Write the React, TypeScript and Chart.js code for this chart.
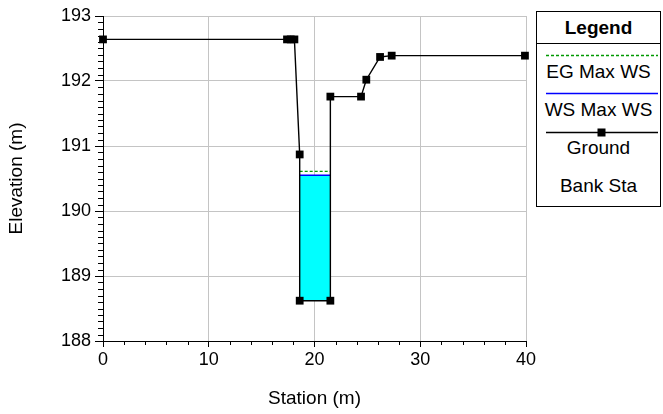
import React, { useEffect, useRef } from 'react';
import { Chart, registerables } from 'chart.js';

Chart.register(...registerables);

// ---- data ----
const groundStation = [0, 17.4, 17.75, 18.1, 18.6, 18.6, 21.5, 21.5, 24.4, 24.9, 26.2, 27.3, 39.9];
const groundElevation = [192.64, 192.64, 192.64, 192.64, 190.87, 188.62, 188.62, 191.76, 191.76, 192.02, 192.37, 192.39, 192.39];
const wsMaxWS = 190.55;
const egMaxWS = 190.61;
const xTickValues = [0, 10, 20, 30, 40];
const yTickValues = [188, 189, 190, 191, 192, 193];
const xMinorStep = 2;
const yMinorStep = 0.1;
const legendTitle = 'Legend';
const legendLabels = ['EG Max WS', 'WS Max WS', 'Ground', 'Bank Sta'];

const FONT = 'Arial, "Liberation Sans", sans-serif';

// wetted area polygon (ground below the water surface)
function wettedPolygon(xs: number[], ys: number[], ws: number) {
  const pts: { x: number; y: number }[] = [];
  for (let i = 0; i < xs.length; i++) {
    if (ys[i] < ws) pts.push({ x: xs[i], y: ys[i] });
    if (i < xs.length - 1) {
      const y0 = ys[i], y1 = ys[i + 1];
      if ((y0 - ws) * (y1 - ws) < 0) {
        const t = (ws - y0) / (y1 - y0);
        pts.push({ x: xs[i] + t * (xs[i + 1] - xs[i]), y: ws });
      }
    }
  }
  if (pts.length) pts.push({ ...pts[0] });
  return pts;
}

const minorTicks = {
  id: 'minorTicks',
  afterDraw(chart: any) {
    const { ctx, chartArea, scales } = chart;
    const x = scales.x, y = scales.y;
    ctx.save();
    ctx.strokeStyle = '#000';
    ctx.lineWidth = 1;
    ctx.beginPath();
    for (let v = x.min; v <= x.max + 1e-9; v += xMinorStep) {
      if (xTickValues.some((t) => Math.abs(t - v) < 1e-6)) continue;
      const px = Math.round(x.getPixelForValue(v)) + 0.5;
      ctx.moveTo(px, chartArea.bottom);
      ctx.lineTo(px, chartArea.bottom + 4);
    }
    const n = Math.round((y.max - y.min) / yMinorStep);
    for (let k = 0; k <= n; k++) {
      const v = y.min + k * yMinorStep;
      if (yTickValues.some((t) => Math.abs(t - v) < 1e-6)) continue;
      const py = Math.round(y.getPixelForValue(v)) + 0.5;
      ctx.moveTo(chartArea.left - 5, py);
      ctx.lineTo(chartArea.left, py);
    }
    ctx.stroke();
    ctx.restore();
  },
};

export default function App() {
  const canvasRef = useRef<HTMLCanvasElement | null>(null);

  useEffect(() => {
    const prevMargin = document.body.style.margin;
    document.body.style.margin = '0';
    const canvas = canvasRef.current;
    if (!canvas) return;

    const ground = groundStation.map((x, i) => ({ x, y: groundElevation[i] }));
    const water = wettedPolygon(groundStation, groundElevation, wsMaxWS);
    const wxs = water.map((p) => p.x);
    const wMin = Math.min(...wxs);
    const wMax = Math.max(...wxs);

    const chart = new Chart(canvas, {
      type: 'scatter',
      data: {
        datasets: [
          {
            label: 'Ground',
            data: ground,
            showLine: true,
            borderColor: '#000',
            borderWidth: 1.4,
            pointStyle: 'rect',
            pointRadius: 5.5,
            pointBackgroundColor: '#000',
            pointBorderColor: '#000',
            pointBorderWidth: 0,
            clip: false,
          } as any,
          {
            label: 'WS Max WS',
            data: [{ x: wMin, y: wsMaxWS }, { x: wMax, y: wsMaxWS }],
            showLine: true,
            borderColor: '#0000ff',
            borderWidth: 1.5,
            pointRadius: 0,
          },
          {
            label: 'EG Max WS',
            data: [{ x: wMin, y: egMaxWS }, { x: wMax, y: egMaxWS }],
            showLine: true,
            borderColor: '#009900',
            borderWidth: 1.3,
            borderDash: [3, 2],
            pointRadius: 0,
          },
          {
            label: 'water',
            data: water,
            showLine: true,
            fill: 'shape',
            backgroundColor: '#00ffff',
            borderColor: 'rgba(0,0,0,0)',
            borderWidth: 0,
            pointRadius: 0,
          } as any,
        ],
      },
      options: {
        responsive: false,
        animation: false,
        events: [],
        layout: { padding: { top: 16, right: 137, left: 0, bottom: 0 } },
        plugins: { legend: { display: false }, tooltip: { enabled: false } },
        scales: {
          x: {
            type: 'linear',
            min: 0,
            max: 40,
            afterBuildTicks: (s: any) => {
              s.ticks = xTickValues.map((v) => ({ value: v }));
            },
            afterFit: (s: any) => {
              s.height = 73;
            },
            ticks: {
              font: { family: FONT, size: 18 },
              color: '#000',
              padding: 2,
              maxRotation: 0,
              autoSkip: false,
            },
            grid: {
              color: (ctx: any) => (ctx.tick && ctx.tick.value === 0 ? 'rgba(0,0,0,0)' : '#c4c4c4'),
              tickColor: '#000',
              tickLength: 6,
              lineWidth: 1,
            },
            border: { color: '#000', width: 1 },
            title: {
              display: true,
              text: 'Station (m)',
              font: { family: FONT, size: 19 },
              color: '#000',
              padding: { top: 0, bottom: 4 },
            },
          },
          y: {
            type: 'linear',
            min: 188,
            max: 193,
            afterBuildTicks: (s: any) => {
              s.ticks = yTickValues.map((v) => ({ value: v }));
            },
            afterFit: (s: any) => {
              s.width = 103;
            },
            ticks: {
              font: { family: FONT, size: 18 },
              color: '#000',
              padding: 4,
              autoSkip: false,
            },
            grid: {
              color: (ctx: any) => (ctx.tick && ctx.tick.value === 188 ? 'rgba(0,0,0,0)' : '#c4c4c4'),
              tickColor: '#000',
              tickLength: 8,
              lineWidth: 1,
            },
            border: { color: '#000', width: 1 },
            title: {
              display: true,
              text: 'Elevation (m)',
              font: { family: FONT, size: 19 },
              color: '#000',
              padding: { top: 5, bottom: 0 },
            },
          },
        },
      } as any,
      plugins: [minorTicks],
    });

    return () => {
      chart.destroy();
      document.body.style.margin = prevMargin;
    };
  }, []);

  const textStyle = (top: number): React.CSSProperties => ({
    position: 'absolute',
    left: 0,
    width: '100%',
    top: top - 11,
    height: 22,
    lineHeight: '22px',
    textAlign: 'center',
    fontFamily: FONT,
    fontSize: 19,
    color: '#000',
    whiteSpace: 'nowrap',
  });

  // legend box: page coords left 536, top 11
  const boxTop = 11;
  return (
    <div style={{ position: 'relative', width: 663, height: 414, background: '#fff' }}>
      <canvas ref={canvasRef} width={663} height={414} style={{ display: 'block', width: 663, height: 414 }} />
      <div
        style={{
          position: 'absolute',
          left: 536,
          top: boxTop,
          width: 125,
          height: 196,
          border: '1px solid #000',
          background: '#fff',
          boxSizing: 'border-box',
        }}
      >
        <div style={{ ...textStyle(27 - boxTop), fontWeight: 'bold' }}>{legendTitle}</div>
        <div style={{ position: 'absolute', left: 0, right: 0, top: 42 - boxTop, height: 1, background: '#000' }} />
        <svg style={{ position: 'absolute', left: 0, top: 0 }} width={125} height={196}>
          <line x1={9} x2={121} y1={54 - boxTop + 0.5} y2={54 - boxTop + 0.5} stroke="#009900" strokeWidth={1.3} strokeDasharray="3,2" />
          <line x1={9} x2={121} y1={92 - boxTop + 0.5} y2={92 - boxTop + 0.5} stroke="#0000ff" strokeWidth={1.5} />
          <line x1={9} x2={121} y1={131 - boxTop + 0.5} y2={131 - boxTop + 0.5} stroke="#000" strokeWidth={1.3} />
          <rect x={60.5} y={131 - boxTop - 3.5} width={8} height={8} fill="#000" />
        </svg>
        <div style={textStyle(71 - boxTop)}>{legendLabels[0]}</div>
        <div style={textStyle(109 - boxTop)}>{legendLabels[1]}</div>
        <div style={textStyle(147 - boxTop)}>{legendLabels[2]}</div>
        <div style={textStyle(185 - boxTop)}>{legendLabels[3]}</div>
      </div>
    </div>
  );
}
